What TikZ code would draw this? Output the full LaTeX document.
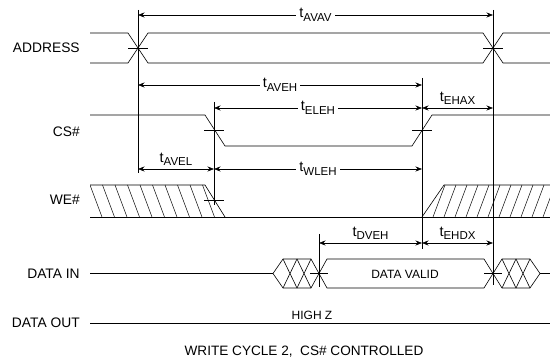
\documentclass[tikz,border=0pt]{standalone}
\usepackage{fontspec}
\setmainfont{Liberation Sans}
\usetikzlibrary{arrows.meta}

\newcommand{\tpar}[1]{t\raisebox{-0.45ex}{\fontsize{11.5}{12}\selectfont #1}}

\begin{document}
\begin{tikzpicture}[x=1pt, y=-1pt, line width=0.6pt,
  sig/.style={font=\fontsize{13.8}{15}\selectfont, anchor=east, inner sep=0pt},
  txt/.style={font=\fontsize{12}{14}\selectfont, inner sep=1pt},
  tlab/.style={font=\fontsize{14.5}{16}\selectfont, fill=white, inner sep=3pt},
  dim/.style={{Stealth[length=6.5pt,width=5pt]}-{Stealth[length=6.5pt,width=5pt]}},
  guide/.style={line width=0.5pt},
  hatch/.style={line width=0.5pt}]
  \useasboundingbox (0,0) rectangle (550,361);

  % guide lines
  \coordinate (ga) at (138,0);
  \coordinate (gb) at (214,0);
  \coordinate (gc) at (422,0);
  \coordinate (gd) at (493,0);
  \coordinate (ge) at (319,0);
  \draw[guide] (ga |- 0,10) -- (ga |- 0,173);
  \draw[guide] (gb |- 0,102) -- (gb |- 0,205);
  \draw[guide] (gc |- 0,78) -- (gc |- 0,249);
  \draw[guide] (gd |- 0,10) -- (gd |- 0,285);
  \draw[guide] (ge |- 0,234) -- (ge |- 0,287);

  % signal names
  \node[sig] (addr) at (80,48) {ADDRESS};
  \node[sig] (cs) at (80,132) {CS\#};
  \node[sig] (we) at (80,200) {WE\#};
  \node[sig] (din) at (80,273.5) {DATA IN};
  \node[sig] (dout) at (80,323) {DATA OUT};

  % ADDRESS
  \draw (90,33) -- (128,33) -- (148,63) -- (483,63) -- (503,33) -- (550,33);
  \draw (90,63) -- (128,63) -- (148,33) -- (483,33) -- (503,63) -- (550,63);
  \draw (128,48) -- (148,48) (483,48) -- (503,48);

  % CS#
  \draw (90,115) -- (205,115) -- (225,146) -- (412,146) -- (432,115) -- (550,115);
  \draw (204,130.5) -- (224,130.5) (412,130.5) -- (432,130.5);

  % WE#
  \draw (90,185) -- (205,185) -- (225,217);
  \draw (90,217) -- (550,217);
  \draw (422,217) -- (444,185) -- (550,185);
  \draw (204,200) -- (224,200);
  \begin{scope}
    \clip (90,185) -- (205,185) -- (225,217) -- (90,217) -- cycle;
    \foreach \x in {77.5,90,...,230} \draw[hatch] (\x,185) -- (\x+12,217);
  \end{scope}
  \begin{scope}
    \clip (422,217) -- (444,185) -- (550,185) -- (550,217) -- cycle;
    \foreach \x in {411,422,...,555} \draw[hatch] (\x,217) -- (\x+12,185);
  \end{scope}

  % DATA IN
  \draw (90,273.5) -- (273,273.5) -- (283,259) -- (311,259);
  \draw (273,273.5) -- (283,288) -- (311,288);
  \foreach \x in {283,297} {
    \draw (\x,259) -- (\x+14,288);
    \draw (\x,288) -- (\x+14,259);
  }
  \draw (311,259) -- (327,288) -- (484,288) -- (502,259) -- (530,259) -- (540,273.5) -- (550,273.5);
  \draw (311,288) -- (327,259) -- (484,259) -- (502,288) -- (530,288) -- (540,273.5);
  \foreach \x in {502,516} {
    \draw (\x,259) -- (\x+14,288);
    \draw (\x,288) -- (\x+14,259);
  }
  \draw (310,273.5) -- (328,273.5) (484,273.5) -- (502,273.5);
  \node[txt] (valid) at (405,274) {DATA VALID};

  % DATA OUT
  \draw (90,323) -- (550,323);
  \node[txt] (hiz) at (312,315) {HIGH Z};

  % timing arrows
  \draw[dim] (ga |- 0,15) -- node[tlab] (avav) {\tpar{AVAV}} (gd |- 0,15);
  \draw[dim] (ga |- 0,85) -- node[tlab] (aveh) {\tpar{AVEH}} (gc |- 0,85);
  \draw[dim] (gb |- 0,108) -- node[tlab] (eleh) {\tpar{ELEH}} (gc |- 0,108);
  \draw[dim] (gc |- 0,108) -- node[tlab, above=0pt] (ehax) {\tpar{EHAX}} (gd |- 0,108);
  \draw[dim] (ga |- 0,169) -- node[tlab, above=0pt] (avel) {\tpar{AVEL}} (gb |- 0,169);
  \draw[dim] (gb |- 0,169) -- node[tlab] (wleh) {\tpar{WLEH}} (gc |- 0,169);
  \draw[dim] (ge |- 0,243) -- node[tlab, above=0pt] (dveh) {\tpar{DVEH}} (gc |- 0,243);
  \draw[dim] (gc |- 0,243) -- node[tlab, above=0pt] (ehdx) {\tpar{EHDX}} (gd |- 0,243);

  \node[font=\fontsize{13.6}{15}\selectfont, inner sep=1pt] (title) at (304,352) {WRITE CYCLE 2,\ \ CS\# CONTROLLED};
\end{tikzpicture}
\end{document}
